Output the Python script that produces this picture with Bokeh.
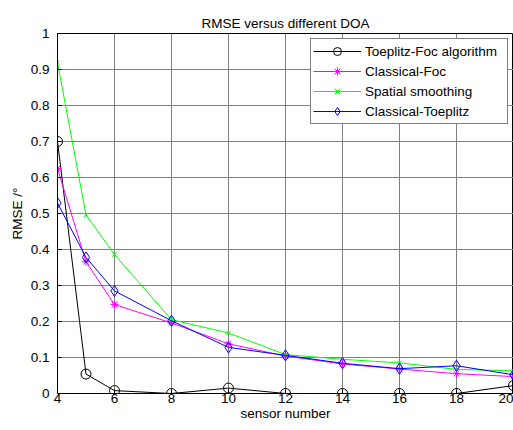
from bokeh.plotting import figure
from bokeh.embed import file_html
from bokeh.resources import INLINE
from bokeh.models import FixedTicker, Range1d, Legend, LegendItem

sensor_number = [4, 5, 6, 8, 10, 12, 14, 16, 18, 20]
toeplitz_foc = [0.70, 0.054, 0.008, 0.0, 0.015, 0.0, 0.0, 0.0, 0.0, 0.022]
classical_foc = [0.625, 0.366, 0.247, 0.196, 0.138, 0.104, 0.082, 0.068, 0.055, 0.047]
spatial_smoothing = [0.92, 0.496, 0.386, 0.205, 0.168, 0.108, 0.095, 0.085, 0.067, 0.063]
classical_toeplitz = [0.529, 0.378, 0.285, 0.202, 0.128, 0.106, 0.084, 0.069, 0.077, 0.052]

x_ticks = [4, 6, 8, 10, 12, 14, 16, 18, 20]
y_ticks = [0, 0.1, 0.2, 0.3, 0.4, 0.5, 0.6, 0.7, 0.8, 0.9, 1]
y_tick_labels = {0: "0", 0.1: "0.1", 0.2: "0.2", 0.3: "0.3", 0.4: "0.4", 0.5: "0.5",
                 0.6: "0.6", 0.7: "0.7", 0.8: "0.8", 0.9: "0.9", 1: "1"}

FONT = "Liberation Sans"
FS = "13.5px"

p = figure(width=513, height=430, output_backend="svg", toolbar_location=None,
           x_range=Range1d(4, 20), y_range=Range1d(0, 1),
           min_border_left=57, min_border_right=0, min_border_top=33, min_border_bottom=37,
           title="RMSE versus different DOA")

p.title.align = "center"
p.title.text_font = FONT
p.title.text_font_size = FS
p.title.text_font_style = "normal"
p.title.text_color = "black"
p.title.standoff = 6

p.outline_line_color = "black"
p.outline_line_width = 1
p.background_fill_color = "white"
p.border_fill_color = "white"

p.xaxis.ticker = FixedTicker(ticks=x_ticks)
p.yaxis.ticker = FixedTicker(ticks=y_ticks)
p.yaxis.major_label_overrides = y_tick_labels
for ax in (p.xaxis, p.yaxis):
    ax.major_tick_in = 4
    ax.major_tick_out = 0
    ax.minor_tick_in = 0
    ax.minor_tick_out = 0
    ax.axis_line_color = "black"
    ax.major_tick_line_color = "black"
    ax.major_label_text_font = FONT
    ax.major_label_text_font_size = FS
    ax.major_label_text_color = "black"
    ax.axis_label_text_font = FONT
    ax.axis_label_text_font_size = FS
    ax.axis_label_text_font_style = "normal"
    ax.axis_label_text_color = "black"
p.xaxis.major_label_standoff = 0
p.xaxis.axis_label_standoff = 0
p.yaxis.major_label_standoff = 8
p.yaxis.axis_label_standoff = 3
p.xaxis.axis_label = "sensor number"
p.yaxis.axis_label = "RMSE /°"

p.xgrid.ticker = FixedTicker(ticks=x_ticks)
p.ygrid.ticker = FixedTicker(ticks=y_ticks)
for g in (p.xgrid, p.ygrid):
    g.grid_line_color = "#808080"
    g.grid_line_width = 1
    g.grid_line_alpha = 1

series = [
    ("Toeplitz-Foc algorithm", toeplitz_foc, "black", "circle", 10),
    ("Classical-Foc", classical_foc, "#ff00ff", "asterisk", 8),
    ("Spatial smoothing", spatial_smoothing, "#00ff00", "x", 6),
    ("Classical-Toeplitz", classical_toeplitz, "#0000ff", "diamond", 11),
]

items = []
for label, ys, color, marker, size in series:
    r1 = p.line(sensor_number, ys, line_color=color, line_width=1)
    r2 = p.scatter(sensor_number, ys, marker=marker, size=size,
                   line_color=color, fill_color=None, line_width=1)
    items.append(LegendItem(label=label, renderers=[r1, r2]))

legend = Legend(items=items, location="top_right")
legend.margin = 5
legend.padding = 2
legend.spacing = 0
legend.label_height = 20
legend.glyph_height = 20
legend.glyph_width = 48
legend.label_standoff = 4
legend.label_width = 140
legend.label_text_font = FONT
legend.label_text_font_size = FS
legend.label_text_color = "black"
legend.border_line_color = "black"
legend.border_line_width = 1
legend.background_fill_color = "white"
legend.background_fill_alpha = 1
p.add_layout(legend)

open("out.html", "w").write(file_html(p, INLINE))
